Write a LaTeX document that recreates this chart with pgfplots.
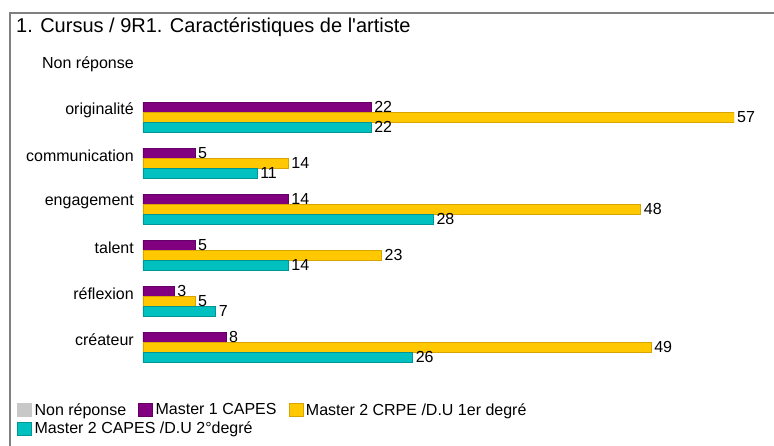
\documentclass[border=0pt]{standalone}
\usepackage{fontspec}
\setmainfont{Liberation Sans}
\usepackage{pgfplots}
\pgfplotsset{compat=1.18}
\usepackage{pgfplotstable}
\definecolor{cpurple}{RGB}{128,0,128}
\definecolor{cpurpleE}{RGB}{100,0,100}
\definecolor{cyellow}{RGB}{255,200,0}
\definecolor{cyellowE}{RGB}{215,165,0}
\definecolor{cteal}{RGB}{0,192,192}
\definecolor{ctealE}{RGB}{0,150,150}
\definecolor{cgray}{RGB}{200,200,200}
\definecolor{cframe}{RGB}{128,128,128}
\pgfplotstableread{
y v
0 8
1 3
2 5
3 14
4 5
5 22
}\mone
\pgfplotstableread{
y v
0 49
1 5
2 23
3 48
4 14
5 57
}\mtwo
\pgfplotstableread{
y v
0 26
1 7
2 14
3 28
4 11
5 22
}\mthree
\begin{document}
\begin{tikzpicture}
\useasboundingbox (0pt,0pt) rectangle (774pt,445pt);
\draw[cframe, line width=1.5pt] (10pt,-5pt) -- (10pt,432pt) -- (780pt,432pt);
\node[anchor=base west, inner sep=0pt, font=\fontsize{20}{22}\selectfont] at (16pt,412pt) {1. Cursus / 9R1. Caractéristiques de l\textquotesingle artiste};
\begin{axis}[
  at={(143pt,70.4pt)}, anchor=south west,
  scale only axis, width=591pt, height=331.2pt,
  xmin=0, xmax=57, ymin=-0.6, ymax=6.6,
  xbar, bar width=10pt,
  axis line style={draw=none},
  major tick length=0pt,
  xtick=\empty,
  ytick={0,1,2,3,4,5,6},
  yticklabels={créateur,réflexion,talent,engagement,communication,originalité,Non réponse},
  yticklabel style={anchor=east, inner sep=0pt, xshift=-9pt, yshift=7pt, font=\fontsize{16}{18}\selectfont},
  nodes near coords,
  every node near coord/.append style={anchor=west, inner sep=0pt, xshift=3pt, font=\fontsize{16}{18}\selectfont, /pgf/number format/assume math mode=true},
  legend columns=3,
  legend style={at={(-0.2132,-0.080)}, anchor=north west, draw=none, fill=none, inner sep=0pt,
    font=\fontsize{16}{18}\selectfont, /tikz/every even column/.append style={column sep=10pt},
    row sep=1pt, cells={anchor=west}},
  legend image code/.code={\draw[#1] (0pt,-6.5pt) rectangle (14pt,6.5pt);},
]
\addlegendimage{fill=cgray, draw=cgray}
\addplot[fill=cpurple, draw=cpurpleE, bar shift=10pt] table[x=v,y=y]{\mone};
\addplot[fill=cyellow, draw=cyellowE, bar shift=0pt] table[x=v,y=y]{\mtwo};
\addplot[fill=cteal, draw=ctealE, bar shift=-10pt] table[x=v,y=y]{\mthree};
\legend{\hspace{1pt}Non réponse,\hspace{1pt}Master 1 CAPES,\hspace{1pt}Master 2 CRPE /D.U 1er degré,\makebox[0pt][l]{\hspace{1pt}Master 2 CAPES /D.U 2°degré}}
\end{axis}
\end{tikzpicture}
\end{document}
